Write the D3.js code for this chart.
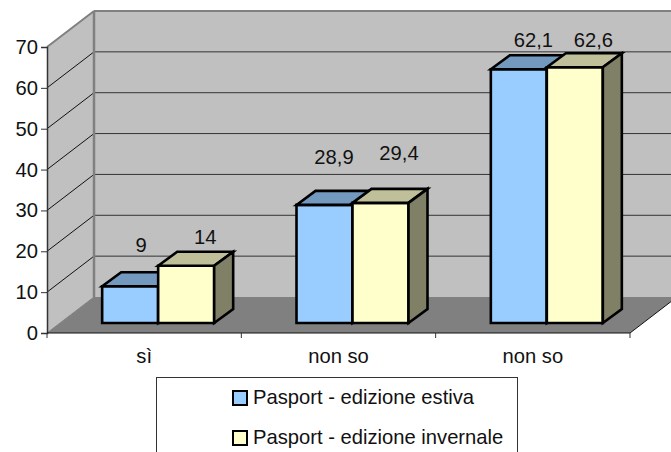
<!DOCTYPE html>
<html><head><meta charset="utf-8">
<script src="https://cdn.jsdelivr.net/npm/d3@7/dist/d3.min.js"></script>
<style>html,body{margin:0;padding:0;background:#fff}svg{display:block}text{font-family:"Liberation Sans",Arial,sans-serif;fill:#111}</style>
</head><body><svg id="c" width="671" height="452"></svg>
<script>
const categories = ["sì", "non so", "non so "];
const seriesNames = ["Pasport - edizione estiva", "Pasport - edizione invernale"];
const estiva = [9, 28.9, 62.1];
const invernale = [14, 29.4, 62.6];
const labelsEstiva = ["9", "28,9", "62,1"];
const labelsInvernale = ["14", "29,4", "62,6"];
const yTicks = [0, 10, 20, 30, 40, 50, 60, 70];
const nudgeEstiva = [[11, -34], [9.5, -41], [14.5, -22]];
const nudgeInvernale = [[19, -22], [18.5, -43], [18.5, -20]];

const svg = d3.select("#c");
const x = d3.scaleBand().domain(categories).range([47, 630]);
const y = d3.scaleLinear().domain([0, 70]).range([333, 47]);
const wall = {dx: 47, dy: -36};
const bar = {ox: 14, oy: -10, w: 56, dx: 19, dy: -14};
const C = {wall: "#c0c0c0", floor: "#808080", edge: "#808080"};
const FS = 20.2;
const poly = (pts, fill, stroke, sw) => svg.append("polygon")
  .attr("points", pts.map(p => p.join(",")).join(" "))
  .attr("fill", fill).attr("stroke", stroke || "none").attr("stroke-width", sw || 0)
  .attr("stroke-linejoin", "miter");
const line = (a, b, c, w) => svg.append("line").attr("x1", a[0]).attr("y1", a[1]).attr("x2", b[0]).attr("y2", b[1])
  .attr("stroke", c).attr("stroke-width", w);

const [x0, x1] = x.range(), y0 = y(0), yT = y(70);
// back wall, left wall, floor
poly([[x0 + wall.dx, yT + wall.dy], [x1 + wall.dx, yT + wall.dy], [x1 + wall.dx, y0 + wall.dy], [x0 + wall.dx, y0 + wall.dy]], C.wall);
poly([[x0, yT], [x0 + wall.dx, yT + wall.dy], [x0 + wall.dx, y0 + wall.dy], [x0, y0]], C.wall);
poly([[x0, y0], [x0 + wall.dx, y0 + wall.dy], [x1 + wall.dx, y0 + wall.dy], [x1, y0]], C.floor);
// gridlines
yTicks.forEach(t => {
  if (t === 0 || t === 70) return;
  line([x0, y(t)], [x0 + wall.dx, y(t) + wall.dy], "#111", 1);
  line([x0 + wall.dx, y(t) + wall.dy], [x1 + wall.dx, y(t) + wall.dy], "#333", 1);
});
// wall edges
line([x0 + wall.dx, yT + wall.dy], [x1 + wall.dx, yT + wall.dy], C.edge, 2);
line([x0, yT], [x0 + wall.dx, yT + wall.dy], C.edge, 2);
line([x0 + wall.dx, yT + wall.dy], [x0 + wall.dx, y0 + wall.dy], C.edge, 2.5);
line([x0, y0], [x0 + wall.dx, y0 + wall.dy], C.floor, 1);
line([x1, y0], [x1 + wall.dx, y0 + wall.dy], "#111", 1);

// axes
const axisY = d3.axisLeft(y).tickValues(yTicks).tickSize(6).tickPadding(3);
const gy = svg.append("g").attr("transform", `translate(${x0},0)`).call(axisY);
gy.selectAll("text").attr("font-size", FS).attr("font-family", '"Liberation Sans"');
gy.selectAll("line").attr("stroke", "#333");
gy.select(".domain").attr("stroke", "#333").attr("stroke-width", 1.5);
const gx = svg.append("g").attr("transform", `translate(0,${y0})`);
gx.append("line").attr("x1", x0).attr("x2", x1).attr("stroke", "#111").attr("stroke-width", 1.2);
d3.range(categories.length + 1).forEach(i => {
  const px = x0 + i * x.bandwidth();
  gx.append("line").attr("x1", px).attr("x2", px).attr("y1", 0).attr("y2", 5).attr("stroke", "#333");
});
categories.forEach(c => gx.append("text").attr("x", x(c) + x.bandwidth() / 2).attr("y", 30)
  .attr("text-anchor", "middle").attr("font-size", FS).text(c.trim()));

// bars
const base = y0 + bar.oy;
function drawBar(cx, v, k, front, top, side) {
  const l = cx + bar.ox + (k - 1) * bar.w, r = l + bar.w;
  const t = y(v) + bar.oy;
  poly([[l, base], [l, t], [r, t], [r, base]], front, "#000", 2.6);
  poly([[l, t], [l + bar.dx, t + bar.dy], [r + bar.dx, t + bar.dy], [r, t]], top, "#000", 2.6);
  poly([[r, t], [r + bar.dx, t + bar.dy], [r + bar.dx, base + bar.dy], [r, base]], side, "#000", 2.6);
}
categories.forEach((c, i) => {
  const cx = x(c) + x.bandwidth() / 2;
  drawBar(cx, estiva[i], 0, "#99ccff", "#7399bf", "#7399bf");
  drawBar(cx, invernale[i], 1, "#ffffcc", "#bfbf99", "#808066");
});
// data labels
categories.forEach((c, i) => {
  const cx = x(c) + x.bandwidth() / 2;
  [[estiva, labelsEstiva, nudgeEstiva, 0], [invernale, labelsInvernale, nudgeInvernale, 1]].forEach(([vals, labs, nud, k]) => {
    svg.append("text").attr("font-size", FS).attr("text-anchor", "middle")
      .attr("x", cx + bar.ox + (k - 0.5) * bar.w + nud[i][0])
      .attr("y", y(vals[i]) + bar.oy + nud[i][1]).text(labs[i]);
  });
});
// legend
svg.append("rect").attr("x", 156.5).attr("y", 377.5).attr("width", 361).attr("height", 90)
  .attr("fill", "#fff").attr("stroke", "#333").attr("stroke-width", 1);
const ly = d3.scalePoint().domain(seriesNames).range([398, 438]);
const swatch = ["#99ccff", "#ffffcc"];
seriesNames.forEach((s, i) => {
  svg.append("rect").attr("x", 233).attr("y", ly(s) - 7).attr("width", 14).attr("height", 14)
    .attr("fill", swatch[i]).attr("stroke", "#000").attr("stroke-width", 2);
  svg.append("text").attr("x", 253).attr("y", ly(s) + 6).attr("font-size", FS).text(s);
});
</script></body></html>
